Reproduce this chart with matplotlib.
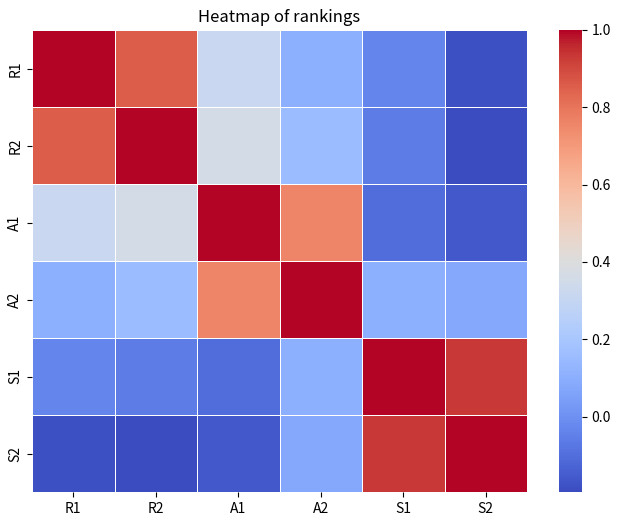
import matplotlib
matplotlib.use("Agg")
import matplotlib.pyplot as plt
import seaborn as sns
import numpy as np
import pandas as pd

labels = ["R1", "R2", "A1", "A2", "S1", "S2"]
row_R1 = [1.00, 0.856, 0.316, 0.10, -0.032, -0.185]
row_R2 = [0.856, 1.00, 0.358, 0.154, -0.062, -0.195]
row_A1 = [0.316, 0.358, 1.00, 0.76, -0.104, -0.16]
row_A2 = [0.10, 0.154, 0.76, 1.00, 0.10, 0.076]
row_S1 = [-0.032, -0.062, -0.104, 0.10, 1.00, 0.934]
row_S2 = [-0.185, -0.195, -0.16, 0.076, 0.934, 1.00]

df = pd.DataFrame([row_R1, row_R2, row_A1, row_A2, row_S1, row_S2], index=labels, columns=labels)

plt.rcParams['font.family'] = ['Noto Sans CJK SC', 'DejaVu Sans']
fig = plt.figure(figsize=(6.22, 5.24), dpi=100)
ax = fig.add_axes([32/622, 32/524, 495/622, 462/524])
cax = fig.add_axes([559/622, 32/524, 23/622, 462/524])
sns.heatmap(df, cmap="coolwarm", linewidths=0.5, linecolor="white", ax=ax, cbar_ax=cax)
ax.set_title("Heatmap of rankings", fontsize=12)
ax.tick_params(labelsize=10)
cax.tick_params(labelsize=10)
fig.savefig("out.png", dpi=100)
